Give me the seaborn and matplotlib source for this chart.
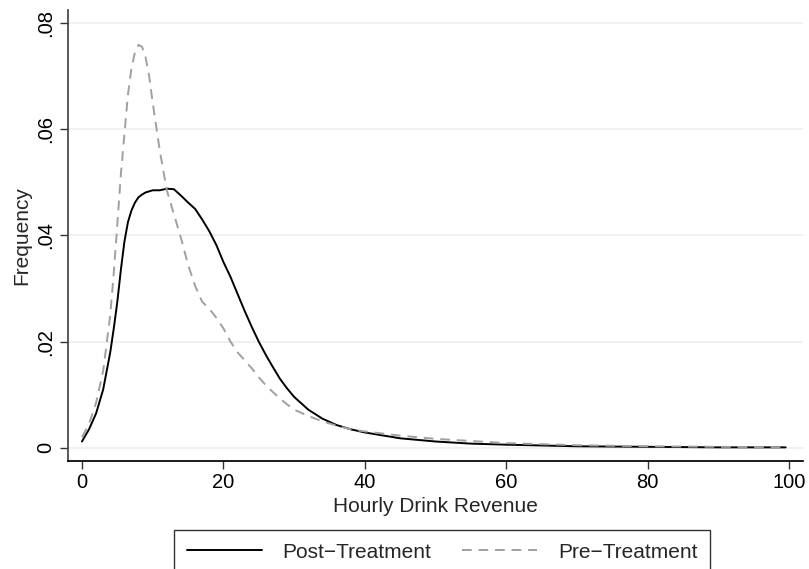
import numpy as np
import pandas as pd
import matplotlib
matplotlib.use("Agg")
import matplotlib.pyplot as plt
import seaborn as sns

# ---- data (kernel density curves) ----
revenue = [0, 1, 2, 3, 4, 4.5, 5, 5.5, 6, 6.5, 7, 7.5, 8, 8.5, 9, 9.5, 10, 11, 12,
           13, 14, 15, 16, 17, 18, 19, 20, 21, 22, 23, 24, 25, 26, 27, 28, 29,
           30, 32, 34, 36, 38, 40, 45, 50, 55, 60, 70, 80, 90, 99.5]
post_treatment = [0.0012, 0.0035, 0.0065, 0.011, 0.018, 0.0225, 0.0275, 0.0335,
                  0.0388, 0.0425, 0.0447, 0.0462, 0.0472, 0.0477, 0.0481, 0.0483,
                  0.0485, 0.0485, 0.0488, 0.0487, 0.0475, 0.0462, 0.0450, 0.0430,
                  0.0408, 0.0382, 0.0350, 0.0322, 0.0290, 0.0258, 0.0228, 0.0200,
                  0.0175, 0.0152, 0.0130, 0.0112, 0.0096, 0.0072, 0.0055, 0.0043,
                  0.0035, 0.0029, 0.0018, 0.0012, 0.0008, 0.0006, 0.0003, 0.0002,
                  0.0001, 0.0001]
pre_treatment = [0.0020, 0.0045, 0.0085, 0.0145, 0.025, 0.0330, 0.042, 0.0515,
                 0.0590, 0.0665, 0.0715, 0.0745, 0.0759, 0.0755, 0.0735, 0.0700,
                 0.065, 0.056, 0.0485, 0.0440, 0.0395, 0.0345, 0.0305, 0.0275,
                 0.0262, 0.0245, 0.0225, 0.0200, 0.0180, 0.0165, 0.0150, 0.0133,
                 0.0118, 0.0105, 0.0093, 0.0082, 0.0072, 0.0060, 0.0050, 0.0042,
                 0.0035, 0.0031, 0.0023, 0.0017, 0.0013, 0.0009, 0.0005, 0.0003,
                 0.0002, 0.0001]

x_ticks = [0, 20, 40, 60, 80, 100]
y_ticks = [0, 0.02, 0.04, 0.06, 0.08]
y_tick_labels = ["0", ".02", ".04", ".06", ".08"]

sns.set_theme(style="white")
plt.rcParams["font.family"] = ["Liberation Sans", "DejaVu Sans"]

fig = plt.figure(figsize=(8.09, 5.69), dpi=100)
ax = fig.add_axes([0.084, 0.190, 0.909, 0.792])

df = pd.DataFrame({"x": revenue, "post": post_treatment, "pre": pre_treatment})
sns.lineplot(data=df, x="x", y="post", ax=ax, color="black", lw=1.4,
             label="Post\u2212Treatment")
sns.lineplot(data=df, x="x", y="pre", ax=ax, color="#a0a0a0", lw=1.4,
             linestyle=(0, (5, 3.5)), label="Pre\u2212Treatment")

ax.set_xlim(-1.98, 102)
ax.set_ylim(-0.00245, 0.0824)
ax.set_xticks(x_ticks)
ax.set_yticks(y_ticks)
ax.set_yticklabels(y_tick_labels, rotation=90, va="center")
ax.tick_params(axis="both", direction="out", length=6, width=1, color="#333333",
               labelsize=14.5, labelcolor="black", pad=3,
               bottom=True, left=True)
ax.yaxis.grid(True, color="#e8eff2", lw=1.2)
ax.xaxis.grid(False)
sns.despine(ax=ax)
ax.spines["left"].set_color("#444444")
ax.spines["bottom"].set_color("black")

ax.set_xlabel("Hourly Drink Revenue", fontsize=15, labelpad=3)
ax.set_ylabel("Frequency", fontsize=15, labelpad=4)

handles, labels = ax.get_legend_handles_labels()
ax.legend_.remove()
leg = fig.legend(handles, labels, loc="upper left",
                 bbox_to_anchor=(174 / 809, 1 - 530 / 569), ncol=2,
                 fontsize=15, frameon=True, fancybox=False, handlelength=3.6,
                 handletextpad=1.0, columnspacing=1.5, borderpad=0.6,
                 borderaxespad=0)
leg.get_frame().set_edgecolor("black")
leg.get_frame().set_linewidth(1.0)

fig.savefig("out.png", dpi=100)
